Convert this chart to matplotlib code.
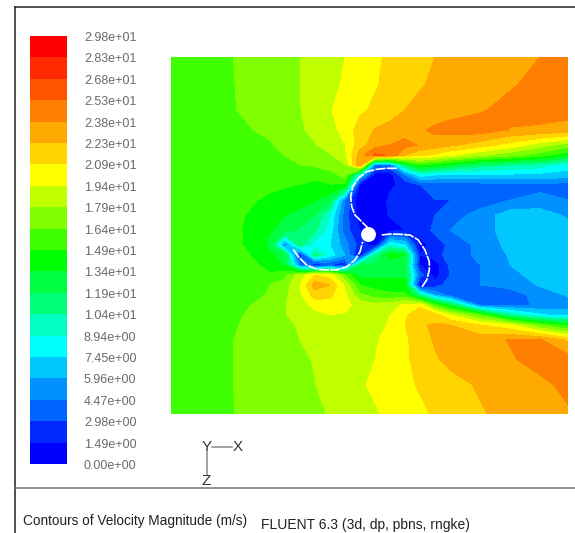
import numpy as np
import matplotlib
matplotlib.use("Agg")
import matplotlib.pyplot as plt
from matplotlib.colors import ListedColormap, BoundaryNorm

plt.rcParams['font.family'] = ['Liberation Sans', 'DejaVu Sans']

band_colors = ['#0000ff', '#0028ff', '#0064ff', '#0090ff', '#00c8ff', '#00ffff', '#00ffc0', '#00ff78',
               '#00ff40', '#00ff00', '#40ff00', '#80ff00', '#c0ff00', '#ffff00', '#ffd400', '#ffaa00',
               '#ff8000', '#ff5500', '#ff2a00', '#ff0000']
tick_labels = ['0.00e+00', '1.49e+00', '2.98e+00', '4.47e+00', '5.96e+00', '7.45e+00', '8.94e+00',
               '1.04e+01', '1.19e+01', '1.34e+01', '1.49e+01', '1.64e+01', '1.79e+01', '1.94e+01',
               '2.09e+01', '2.23e+01', '2.38e+01', '2.53e+01', '2.68e+01', '2.83e+01', '2.98e+01']
step = 1.49

grid_x = [171, 205, 235, 255, 270, 285, 300, 315, 330, 345, 360, 375, 390, 405, 420, 435, 450, 480, 510, 540, 568]
grid_y = [57, 85, 110, 130, 145, 155, 165, 175, 185, 200, 215, 230, 245, 255, 265, 275, 285, 295, 305, 315, 325,
          340, 360, 385, 414]

# speed at the grid nodes, in units of one legend step
speed_in_steps = [
 [10.4,10.6,11.02,11.3,11.5,11.7,12.0,12.3,12.7,13.0,13.5,13.9,14.1,14.5,14.8,15.0,15.2,15.5,15.7,16.0,16.4],
 [10.4,10.6,11.0,11.3,11.5,11.8,12.0,12.4,12.8,13.1,13.5,13.9,14.3,14.6,14.95,15.1,15.3,15.6,15.9,16.3,16.5],
 [10.4,10.6,10.97,11.3,11.5,11.75,11.97,12.4,12.95,13.3,13.8,14.2,14.6,15.0,15.2,15.4,15.6,15.9,16.3,16.5,16.4],
 [10.4,10.5,10.7,11.02,11.2,11.55,11.9,12.2,12.7,13.3,14.5,15.05,15.3,15.6,15.85,16.2,16.4,16.5,15.95,15.8,15.6],
 [10.4,10.5,10.6,10.7,10.9,11.3,11.7,11.95,12.4,13.0,14.6,15.5,16.0,16.3,15.9,15.6,15.2,14.5,13.6,12.5,11.5],
 [10.4,10.5,10.55,10.6,10.7,11.02,11.4,11.65,11.9,12.7,15.5,17.2,16.9,15.0,14.2,13.8,13.2,12.2,11.4,10.5,9.3],
 [10.4,10.5,10.5,10.5,10.6,10.7,10.97,11.15,11.6,11.9,16.0,3.0,3.0,8.0,10.0,9.5,8.8,7.5,7.0,6.5,5.5],
 [10.4,10.5,10.5,10.45,10.5,10.6,10.7,10.2,10.5,11.4,5.0,0.5,0.5,3.0,5.5,5.0,4.8,5.0,4.8,4.7,4.5],
 [10.4,10.5,10.4,10.3,10.2,10.1,9.95,9.8,9.95,9.8,0.5,0.3,0.8,1.3,2.0,2.5,2.5,2.5,2.7,2.8,2.5],
 [10.4,10.4,10.3,10.05,9.8,9.6,9.4,9.1,8.3,3.0,0.0,0.3,1.2,1.5,1.8,2.0,2.0,2.3,3.0,3.2,3.0],
 [10.4,10.4,10.2,9.8,9.3,9.0,8.7,8.0,6.0,2.5,0.3,0.5,1.1,1.4,1.7,2.0,2.4,3.5,4.5,4.6,3.8],
 [10.4,10.4,10.2,9.6,9.1,8.6,7.8,7.2,5.5,2.5,1.0,0.3,0.5,1.0,1.5,2.2,3.0,3.5,4.5,4.8,4.4],
 [10.4,10.4,10.2,9.7,8.7,3.0,7.5,5.5,5.0,3.5,1.5,0.5,6.0,5.0,0.5,1.5,2.2,3.3,4.3,4.8,4.8],
 [10.4,10.4,10.3,9.9,9.2,8.5,1.0,7.5,5.5,4.0,0.5,7.0,9.5,9.0,1.0,1.5,2.5,3.2,4.1,4.7,4.9],
 [10.4,10.4,10.3,10.1,9.7,8.8,3.0,1.0,2.0,1.0,8.0,8.2,8.5,8.4,1.0,0.5,2.2,3.0,4.0,4.6,4.9],
 [10.4,10.4,10.35,10.2,10.1,10.7,12.5,14.0,13.5,11.0,8.5,8.6,8.8,8.8,2.5,0.6,2.0,3.0,3.7,4.4,4.8],
 [10.4,10.4,10.4,10.5,11.0,11.5,13.0,15.5,15.0,12.8,10.0,9.6,9.5,9.3,0.5,1.5,2.5,3.0,3.3,4.1,4.6],
 [10.4,10.4,10.5,10.7,11.15,11.8,12.8,14.5,14.2,13.2,11.2,10.5,10.2,10.3,7.0,4.0,2.5,2.8,2.5,3.4,4.1],
 [10.4,10.4,10.6,11.1,11.3,11.97,12.4,13.4,13.6,13.3,12.6,12.3,12.6,13.2,13.7,10.5,8.5,3.0,2.8,3.1,3.5],
 [10.4,10.5,10.85,11.2,11.4,11.97,12.2,12.6,13.0,12.9,12.5,12.2,13.0,13.8,14.8,14.6,13.0,10.8,7.0,5.2,4.5],
 [10.4,10.5,10.95,11.2,11.4,11.8,12.1,12.3,12.5,12.7,12.4,12.7,13.1,14.0,14.9,15.1,15.0,14.0,13.2,11.0,9.5],
 [10.4,10.5,11.02,11.2,11.4,11.8,12.0,12.1,12.3,12.5,12.6,12.9,13.3,13.8,14.6,15.1,15.4,15.6,16.05,16.1,14.8],
 [10.4,10.6,11.02,11.2,11.4,11.6,11.85,12.05,12.15,12.4,12.7,13.0,13.4,13.9,14.2,14.9,15.2,15.6,15.9,16.3,16.5],
 [10.4,10.6,11.02,11.15,11.3,11.5,11.7,11.98,12.3,12.6,12.9,13.15,13.5,13.8,14.1,14.4,14.7,15.1,15.4,15.8,16.2],
 [10.4,10.7,11.0,11.15,11.3,11.45,11.7,11.85,12.05,12.3,12.6,12.9,13.2,13.5,13.8,14.1,14.4,14.9,15.3,15.6,15.9],
]

blade_1_x = [396.7, 386.7, 376.7, 366.7, 358.3, 352.7, 350.7, 351.7, 355.0, 361.7, 368.3]
blade_1_y = [168.3, 168.3, 169.3, 171.7, 178.3, 186.7, 196.7, 206.7, 215.0, 221.7, 228.3]
blade_2_x = [381.7, 390.0, 400.0, 410.0, 418.3, 425.0, 429.3, 429.3, 426.7, 421.7]
blade_2_y = [235.0, 234.0, 234.3, 235.0, 240.0, 250.0, 261.7, 270.0, 280.0, 287.3]
blade_3_x = [293.3, 298.3, 306.7, 316.7, 326.7, 336.7, 346.7, 355.0, 360.0, 362.7]
blade_3_y = [249.3, 256.7, 265.0, 269.3, 270.0, 270.0, 266.7, 260.0, 251.7, 241.7]
hub_x = [368.3]
hub_y = [234.3]

W, H = 575, 533
fig = plt.figure(figsize=(W / 100, H / 100), dpi=100, facecolor='white')

def px_axes(x0, y0, x1, y1):
    return fig.add_axes([x0 / W, 1 - y1 / H, (x1 - x0) / W, (y1 - y0) / H])

cmap = ListedColormap(band_colors)
levels = np.arange(len(band_colors) + 1) * step
norm = BoundaryNorm(levels, cmap.N)

# contour field
ax = px_axes(171, 57, 568, 414)
ax.set_xlim(171, 568)
ax.set_ylim(414, 57)
ax.axis('off')
ax.contourf(grid_x, grid_y, np.array(speed_in_steps) * step, levels=levels, cmap=cmap, norm=norm)
for bx, by in [(blade_1_x, blade_1_y), (blade_2_x, blade_2_y), (blade_3_x, blade_3_y)]:
    ax.plot(bx, by, color='white', lw=1.2, dashes=(6, 0.8))
ax.scatter(hub_x, hub_y, s=115, color='white', marker='o', linewidths=0, zorder=3)

# legend bar
cax = px_axes(30, 36, 67, 464)
cax.pcolormesh([0, 1], levels, (levels[:-1] + step / 2)[:, None], cmap=cmap, norm=norm)
cax.set_xlim(0, 1)
cax.set_ylim(levels[0], levels[-1])
cax.axis('off')
for lev, lab in zip(levels, tick_labels):
    y_px = 466 - lev / levels[-1] * (466 - 38)
    fig.text(84 / W, 1 - y_px / H, lab, fontsize=9.0, color='#6a6a6a', va='center', ha='left')

# frame and dividers drawn on an overlay in pixel units
ov = fig.add_axes([0, 0, 1, 1], facecolor='none')
ov.set_xlim(0, W)
ov.set_ylim(H, 0)
ov.axis('off')
ov.plot([15, 15], [7, H], color='#222222', lw=1.1)
ov.plot([15, W], [7, 7], color='#222222', lw=1.1)
ov.plot([15, W], [488, 488], color='#777777', lw=1.1)
ov.plot([212, 232], [447, 447], color='#888888', lw=1.1)
ov.plot([207, 207], [452, 475], color='#888888', lw=1.1)
ov.text(207, 447, 'Y', fontsize=11, ha='center', va='center', color='#333333')
ov.text(238, 447, 'X', fontsize=11, ha='center', va='center', color='#333333')
ov.text(206, 481, 'Z', fontsize=11, ha='center', va='center', color='#333333')
ov.text(23, 521, 'Contours of Velocity Magnitude (m/s)', fontsize=9.8, ha='left', va='center', color='#222222')
ov.text(261, 524.5, 'FLUENT 6.3 (3d, dp, pbns, rngke)', fontsize=10, ha='left', va='center', color='#222222')

fig.savefig('out.png', dpi=100)
